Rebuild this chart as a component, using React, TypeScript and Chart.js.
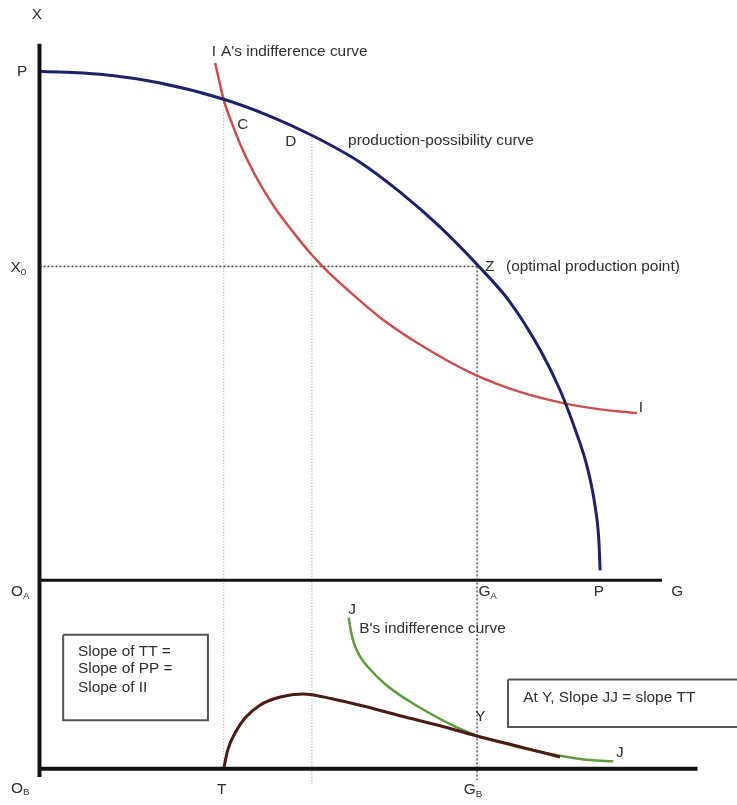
import React, { useEffect, useRef } from "react";
import { Chart, registerables } from "chart.js";

Chart.register(...registerables);

// ---- Data (G = horizontal good, X = vertical good), in diagram units ----
// Production-possibility curve PP
const ppG = [0, 9.2, 18.3, 28.0, 35.0, 41.6, 48.7, 54.8, 60.9, 66.5, 71.5, 76.1, 79.1, 81.4, 83.2, 84.4, 85.0, 85.2];
const ppX = [81.6, 81.1, 79.7, 77.1, 74.4, 71.2, 67.0, 62.2, 56.6, 50.6, 44.6, 36.9, 30.5, 24.2, 18.3, 12.1, 6.5, 1.6];

// A's indifference curve II
const iiG = [26.7, 27.3, 28.0, 29.3, 30.5, 32.0, 33.8, 35.9, 38.4, 41.1, 43.5, 47.2, 51.8, 57.8, 65.9, 73.0, 79.6, 85.2, 90.8];
const iiX = [82.9, 80.1, 77.0, 73.1, 69.9, 66.5, 63.0, 59.5, 56.0, 52.5, 49.8, 46.2, 42.1, 37.8, 33.1, 30.2, 28.4, 27.4, 26.8];

// Trade curve TT (lower panel, origin O_B at X = -30.2)
const ttG = [28.0, 28.6, 29.7, 31.2, 33.5, 36.6, 40.0, 44.6, 49.8, 54.8, 60.9, 66.3, 73.5, 79.1];
const ttX = [-30.2, -27.2, -24.5, -22.1, -20.0, -18.7, -18.2, -19.0, -20.3, -21.7, -23.3, -24.9, -26.8, -28.3];

// B's indifference curve JJ
const jjG = [47.0, 47.3, 47.8, 48.7, 50.2, 52.5, 55.5, 59.3, 63.1, 66.3, 70.0, 73.5, 79.1, 83.7, 87.2];
const jjX = [-6.0, -8.0, -10.1, -12.2, -14.2, -16.6, -18.9, -21.3, -23.4, -24.8, -25.9, -26.9, -28.1, -28.8, -29.0];

// Key points
const pointC = { g: 28.0, x: 77.0 };
const pointD = { g: 41.4, x: 71.4 };
const pointZ = { g: 66.5, x: 50.3 };
const baseB = -30.2; // O_B axis level
const axisTopX = 86;
const axisBottomX = -31.5;
const upperAxisEnd = 94.6;
const lowerAxisEnd = 100;

// Text boxes (corner values)
const box1G = [3.6, 25.6];
const box1X = [-8.7, -22.4];
const box2G = [71.2, 108];
const box2X = [-15.9, -23.5];

// Labels
type Lbl = { t: string; sub?: string; g: number; x: number; align?: "left" | "center" };
const labels: Lbl[] = [
  { t: "X", g: -0.4, x: 90.6 },
  { t: "P", g: -2.65, x: 81.5 },
  { t: "X", sub: "0", g: -3.2, x: 50.0 },
  { t: "I", g: 26.5, x: 84.7 },
  { t: "A's indifference curve", g: 27.6, x: 84.7, align: "left" },
  { t: "C", g: 30.9, x: 72.9 },
  { t: "D", g: 38.2, x: 70.2 },
  { t: "production-possibility curve", g: 46.9, x: 70.4, align: "left" },
  { t: "Z", g: 68.4, x: 50.2 },
  { t: "(optimal production point)", g: 70.9, x: 50.2, align: "left" },
  { t: "I", g: 91.4, x: 27.6 },
  { t: "O", sub: "A", g: -2.9, x: -1.9 },
  { t: "G", sub: "A", g: 66.7, x: -1.9, align: "left" },
  { t: "P", g: 85.0, x: -1.9 },
  { t: "G", g: 96.9, x: -1.9 },
  { t: "J", g: 47.5, x: -4.8 },
  { t: "B's indifference curve", g: 48.6, x: -7.8, align: "left" },
  { t: "Slope of TT =", g: 5.85, x: -11.5, align: "left" },
  { t: "Slope of PP =", g: 5.85, x: -14.3, align: "left" },
  { t: "Slope of II", g: 5.85, x: -17.2, align: "left" },
  { t: "Y", g: 67.0, x: -22.0 },
  { t: "At Y, Slope JJ = slope TT", g: 73.5, x: -18.9, align: "left" },
  { t: "J", g: 88.2, x: -27.7 },
  { t: "O", sub: "B", g: -2.9, x: -33.4 },
  { t: "T", g: 27.7, x: -33.6 },
  { t: "G", sub: "B", g: 65.9, x: -33.6 },
];

const FONT = '"Liberation Sans", Arial, sans-serif';
const STRETCH = 1.1;

const zip = (a: number[], b: number[]) => a.map((v, i) => ({ x: v, y: b[i] }));

const labelPlugin = {
  id: "diagramLabels",
  afterDatasetsDraw(chart: any) {
    const { ctx, scales } = chart;
    const sx = scales.x;
    const sy = scales.y;
    ctx.save();
    ctx.fillStyle = "#2e2e2e";
    ctx.textBaseline = "middle";
    ctx.textAlign = "left";
    for (const l of labels) {
      const px = sx.getPixelForValue(l.g);
      const py = sy.getPixelForValue(l.x);
      ctx.font = `14px ${FONT}`;
      const w1 = ctx.measureText(l.t).width;
      let w2 = 0;
      if (l.sub) {
        ctx.font = `9px ${FONT}`;
        w2 = ctx.measureText(l.sub).width;
      }
      const total = (w1 + w2) * STRETCH;
      const left = (l.align ?? "center") === "center" ? px - total / 2 : px;
      ctx.save();
      ctx.translate(left, py);
      ctx.scale(STRETCH, 1);
      ctx.font = `14px ${FONT}`;
      ctx.fillText(l.t, 0, 0);
      if (l.sub) {
        ctx.font = `9px ${FONT}`;
        ctx.fillText(l.sub, w1, 4);
      }
      ctx.restore();
    }
    ctx.restore();
  },
};

export default function App() {
  const ref = useRef<HTMLCanvasElement>(null);

  useEffect(() => {
    const line = (data: any[], color: string, width: number, extra: any = {}) => ({
      data,
      showLine: true,
      borderColor: color,
      backgroundColor: color,
      borderWidth: width,
      pointRadius: 0,
      tension: 0,
      fill: false,
      ...extra,
    });
    const curve = { cubicInterpolationMode: "monotone", tension: 0.4 };

    const datasets: any[] = [
      // dotted guides
      line([{ x: pointC.g, y: pointC.x }, { x: pointC.g, y: baseB }], "#a0a0a0", 1, { borderDash: [1, 2], order: 10 }),
      line([{ x: pointD.g, y: pointD.x }, { x: pointD.g, y: -32.8 }], "#8c8c8c", 1, { borderDash: [1, 2], order: 10 }),
      line([{ x: pointZ.g, y: pointZ.x }, { x: pointZ.g, y: -32.0 }], "#555555", 1.5, { borderDash: [2, 2], order: 10 }),
      line([{ x: 0, y: pointZ.x }, { x: pointZ.g, y: pointZ.x }], "#444444", 1.5, { borderDash: [2, 2], order: 10 }),
      // axes
      line([{ x: 0, y: axisTopX }, { x: 0, y: axisBottomX }], "#111111", 4, { order: 1 }),
      line([{ x: 0, y: 0 }, { x: upperAxisEnd, y: 0 }], "#111111", 3, { order: 1 }),
      line([{ x: 0, y: baseB }, { x: lowerAxisEnd, y: baseB }], "#111111", 4, { order: 1 }),
      // boxes
      line(
        [
          { x: box1G[0], y: box1X[0] },
          { x: box1G[1], y: box1X[0] },
          { x: box1G[1], y: box1X[1] },
          { x: box1G[0], y: box1X[1] },
          { x: box1G[0], y: box1X[0] },
        ],
        "#555555",
        2,
        { order: 5 }
      ),
      line(
        [
          { x: box2G[0], y: box2X[0] },
          { x: box2G[1], y: box2X[0] },
          { x: box2G[1], y: box2X[1] },
          { x: box2G[0], y: box2X[1] },
          { x: box2G[0], y: box2X[0] },
        ],
        "#555555",
        2,
        { order: 5 }
      ),
      // curves
      line(zip(iiG, iiX), "#c8504e", 2.5, { ...curve, order: 4 }),
      line(zip(ppG, ppX), "#1d2268", 3, { ...curve, order: 3 }),
      line(zip(jjG, jjX), "#5f9b3e", 2.5, { ...curve, order: 4 }),
      line(zip(ttG, ttX), "#4a1c14", 3, { ...curve, order: 3 }),
    ];

    const chart = new Chart(ref.current!, {
      type: "scatter",
      data: { datasets },
      options: {
        animation: false,
        responsive: false,
        maintainAspectRatio: false,
        layout: { padding: 0 },
        plugins: { legend: { display: false }, tooltip: { enabled: false }, title: { display: false } },
        scales: {
          x: { type: "linear", min: -6, max: 106, display: false },
          y: { type: "linear", min: -36, max: 93, display: false },
        },
        events: [],
      },
      plugins: [labelPlugin],
    } as any);
    return () => chart.destroy();
  }, []);

  return (
    <div style={{ position: "absolute", left: 0, top: 0, width: 737, height: 805, background: "#ffffff" }}>
      <canvas ref={ref} width={737} height={805} style={{ width: 737, height: 805, display: "block" }} />
    </div>
  );
}
